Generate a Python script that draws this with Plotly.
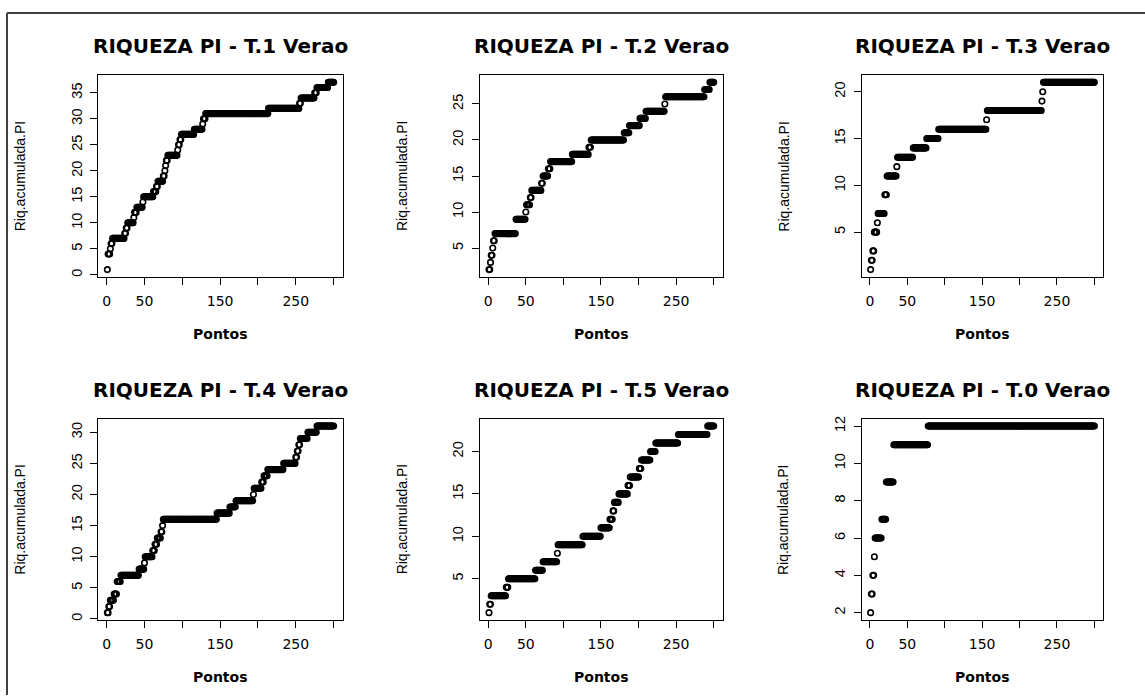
import plotly.graph_objects as go

# ---------------- data ----------------
n_pontos = 300

titulos = ["RIQUEZA PI - T.1 Verao", "RIQUEZA PI - T.2 Verao", "RIQUEZA PI - T.3 Verao",
           "RIQUEZA PI - T.4 Verao", "RIQUEZA PI - T.5 Verao", "RIQUEZA PI - T.0 Verao"]

x_label = "Pontos"
y_label = "Riq.acumulada.PI"

x_ticks = [0, 50, 100, 150, 200, 250, 300]
x_ticktext = ["0", "50", "", "150", "", "250", ""]

# run-length description: first point of each run and cumulative richness in that run
t1_inicio = [1, 2, 5, 6, 8, 24, 26, 28, 36, 37, 40, 48, 49, 62, 66, 68, 75, 77, 78, 79,
             81, 94, 95, 97, 99, 116, 127, 128, 131, 214, 255, 257, 275, 278, 293]
t1_riq = [1, 4, 5, 6, 7, 8, 9, 10, 11, 12, 13, 14, 15, 16, 17, 18, 19, 20, 21, 22,
          23, 24, 25, 26, 27, 28, 29, 30, 31, 32, 33, 34, 35, 36, 37]

t2_inicio = [1, 3, 4, 6, 7, 9, 37, 50, 51, 56, 58, 71, 73, 80, 83, 112, 134, 137, 181, 188,
             202, 210, 235, 236, 288, 295]
t2_riq = [2, 3, 4, 5, 6, 7, 9, 10, 11, 12, 13, 14, 15, 16, 17, 18, 19, 20, 21, 22,
          23, 24, 25, 26, 27, 28]

t3_inicio = [1, 2, 4, 6, 10, 11, 20, 23, 36, 37, 58, 76, 92, 156, 157, 230, 231, 232]
t3_riq = [1, 2, 3, 5, 6, 7, 9, 11, 12, 13, 14, 15, 16, 17, 18, 19, 20, 21]

t4_inicio = [1, 3, 5, 10, 14, 19, 43, 50, 51, 61, 64, 67, 72, 74, 75, 146, 163, 171, 194, 195,
             205, 208, 213, 234, 250, 252, 254, 256, 266, 278]
t4_riq = [1, 2, 3, 4, 6, 7, 8, 9, 10, 11, 12, 13, 14, 15, 16, 17, 18, 19, 20, 21,
          22, 23, 24, 25, 26, 27, 28, 29, 30, 31]

t5_inicio = [1, 2, 4, 24, 27, 63, 73, 92, 93, 126, 150, 162, 166, 168, 174, 186, 189, 201, 204,
             216, 223, 253, 292]
t5_riq = [1, 2, 3, 4, 5, 6, 7, 8, 9, 10, 11, 12, 13, 14, 15, 16, 17, 18, 19,
          20, 21, 22, 23]

t0_inicio = [1, 2, 4, 6, 7, 16, 22, 32, 78]
t0_riq = [2, 3, 4, 5, 6, 7, 9, 11, 12]

y_ticks = [
    [0, 5, 10, 15, 20, 25, 30, 35],
    [5, 10, 15, 20, 25],
    [5, 10, 15, 20],
    [0, 5, 10, 15, 20, 25, 30],
    [5, 10, 15, 20],
    [2, 4, 6, 8, 10, 12],
]

series = [(t1_inicio, t1_riq), (t2_inicio, t2_riq), (t3_inicio, t3_riq),
          (t4_inicio, t4_riq), (t5_inicio, t5_riq), (t0_inicio, t0_riq)]


def expand(inicio, riq, n):
    xs, ys = [], []
    for i, (s, v) in enumerate(zip(inicio, riq)):
        e = inicio[i + 1] - 1 if i + 1 < len(inicio) else n
        for p in range(s, e + 1):
            xs.append(p)
            ys.append(v)
    return xs, ys


def r_range(lo, hi):
    d = (hi - lo) * 0.04
    return [lo - d, hi + d]


# ---------------- layout (pixels) ----------------
W, H = 1145, 696
DY = -1  # small page offset compensation
cols = [(98.3, 342.7), (480.0, 722.7), (861.7, 1103.3)]
rows = [(73.3 + DY, 276.7 + DY), (419.0 + DY, 621.7 + DY)]

fig = go.Figure()
layout = dict(
    width=W, height=H,
    margin=dict(l=0, r=0, t=0, b=0),
    paper_bgcolor="white", plot_bgcolor="white",
    showlegend=False,
)
annotations = []

for k, (inicio, riq) in enumerate(series):
    r, c = divmod(k, 3)
    xs, ys = expand(inicio, riq, n_pontos)
    ax = "" if k == 0 else str(k + 1)
    fig.add_trace(go.Scatter(
        x=xs, y=ys, mode="markers",
        xaxis="x" + ax, yaxis="y" + ax,
        marker=dict(symbol="circle-open", size=5.5, color="black",
                    line=dict(width=1.6, color="black")),
        hoverinfo="x+y",
    ))
    x0, x1 = cols[c]
    y0, y1 = rows[r]
    common = dict(showline=True, linecolor="black", linewidth=1, mirror=True,
                  ticks="outside", ticklen=7, tickcolor="black", tickwidth=1,
                  showgrid=False, zeroline=False)
    layout["xaxis" + ax] = dict(
        domain=[x0 / W, x1 / W], anchor="y" + ax,
        range=r_range(1, n_pontos),
        tickmode="array", tickvals=x_ticks, ticktext=x_ticktext,
        tickfont=dict(family="DejaVu Sans", size=14, color="black"),
        ticklabelstandoff=4,
        **common)
    layout["yaxis" + ax] = dict(
        domain=[1 - y1 / H, 1 - y0 / H], anchor="x" + ax,
        range=r_range(min(ys), max(ys)),
        tickmode="array", tickvals=y_ticks[k], ticktext=[str(v) for v in y_ticks[k]],
        tickangle=-90,
        tickfont=dict(family="Liberation Sans", size=14.5, color="black"),
        ticklabelstandoff=3,
        **common)
    cx = (x0 + x1) / 2
    cy = (y0 + y1) / 2
    annotations.append(dict(text="<b>" + titulos[k] + "</b>", x=cx / W, y=1 - (y0 - 29) / H,
                            xref="paper", yref="paper", xanchor="center", yanchor="middle",
                            showarrow=False,
                            font=dict(family="DejaVu Sans", size=20, color="black")))
    annotations.append(dict(text="<b>" + x_label + "</b>", x=cx / W, y=1 - (y1 + 57) / H,
                            xref="paper", yref="paper", xanchor="center", yanchor="middle",
                            showarrow=False,
                            font=dict(family="DejaVu Sans", size=14, color="black")))
    annotations.append(dict(text=y_label, x=(x0 - 78) / W, y=1 - cy / H, textangle=-90,
                            xref="paper", yref="paper", xanchor="center", yanchor="middle",
                            showarrow=False,
                            font=dict(family="Liberation Sans", size=14, color="black")))

layout["annotations"] = annotations
layout["shapes"] = [
    dict(type="line", xref="paper", yref="paper", x0=7 / W, x1=1,
         y0=1 - (11 + DY) / H, y1=1 - (11 + DY) / H,
         line=dict(color="#404040", width=2)),
    dict(type="line", xref="paper", yref="paper", x0=7 / W, x1=7 / W,
         y0=0, y1=1 - (11 + DY) / H,
         line=dict(color="#404040", width=2)),
]
fig.update_layout(**layout)
fig.write_html(
    "out.html",
    config={"displayModeBar": False},
    post_script="document.body.style.margin='0';document.body.style.padding='0';"
                "document.body.style.overflow='hidden';",
)
